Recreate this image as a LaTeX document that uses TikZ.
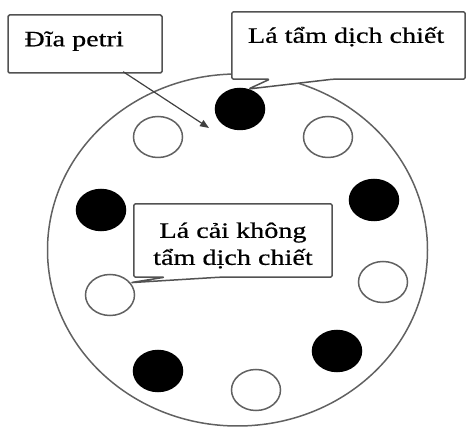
\documentclass[tikz,border=0pt]{standalone}
\usepackage{fontspec}
\setmainfont{Liberation Serif}
\newfontfamily\labelfont{Liberation Serif}[FakeStretch=1.28, FakeBold=0.6]
\usetikzlibrary{shapes.geometric,calc,arrows.meta}

\begin{document}
\begin{tikzpicture}[x=1pt,y=-1pt,
  outline/.style={draw=black!62, line width=1.5pt},
  hole/.style={ellipse, outline, minimum width=49pt, minimum height=41pt, inner sep=0pt},
  soaked/.style={hole, fill=black, draw=black},
  plain/.style={hole, fill=white},
  frame/.style={rectangle, inner sep=0pt},
  boxline/.style={draw=black!68, line width=1.5pt, fill=white, rounded corners=1.5pt, line join=round},
  lbl/.style={font=\labelfont\fontsize{22}{27}\selectfont, inner sep=0pt, text=black},
  pointer/.style={draw=black!75, line width=1.2pt, -{Triangle[length=9pt,width=7pt]}},
]
\useasboundingbox (0,0) rectangle (466,427);

% the petri dish
\node[ellipse, outline, minimum width=380pt, minimum height=352pt, inner sep=0pt] (dish) at (237.5,250) {};

% leaf discs: black = soaked in extract, white = untreated
\node[soaked] (bk1) at (240,109) {};
\node[plain]  (wh1) at (158,137) {};
\node[plain]  (wh2) at (328,137) {};
\node[soaked] (bk2) at (101,210) {};
\node[soaked] (bk3) at (374,200) {};
\node[plain]  (wh3) at (110,295) {};
\node[plain]  (wh4) at (383,282) {};
\node[soaked] (bk4) at (158,371) {};
\node[plain]  (wh5) at (256,390) {};
\node[soaked] (bk5) at (337,351) {};

% label for the dish
\node[frame, boxline, minimum width=154pt, minimum height=58pt] (petribox) at (85,44) {};
\node[lbl, anchor=base west] (petritext) at ($(petribox.north west)+(17,32)$) {Đĩa petri};
\coordinate (petritip) at (209,128);
\draw[pointer] ($(petribox.south west)+(116,-2)$) -- (petritip);

% callout for the soaked discs
\node[frame, minimum width=233pt, minimum height=67pt] (leafbox) at (348.5,45.5) {};
\draw[boxline] (leafbox.north west) -- (leafbox.north east) -- (leafbox.south east)
  -- ($(leafbox.south west)+(101,0)$) -- (bk1.67) -- ($(leafbox.south west)+(38,0)$)
  -- (leafbox.south west) -- cycle;
\node[lbl, anchor=base west] (leaftext) at ($(leafbox.north west)+(16,31)$) {Lá tẩm dịch chiết};

% callout for the untreated discs
\node[frame, minimum width=198pt, minimum height=73pt] (cabbagebox) at (233,240.5) {};
\draw[boxline] (cabbagebox.north west) -- (cabbagebox.north east) -- (cabbagebox.south east)
  -- ($(cabbagebox.south west)+(86,0)$) -- (wh3.31) -- ($(cabbagebox.south west)+(31,0)$)
  -- (cabbagebox.south west) -- cycle;
\node[lbl, align=center] (cabbagetext) at ($(cabbagebox.center)+(0,5)$) {Lá cải không\\tẩm dịch chiết};
\end{tikzpicture}
\end{document}
